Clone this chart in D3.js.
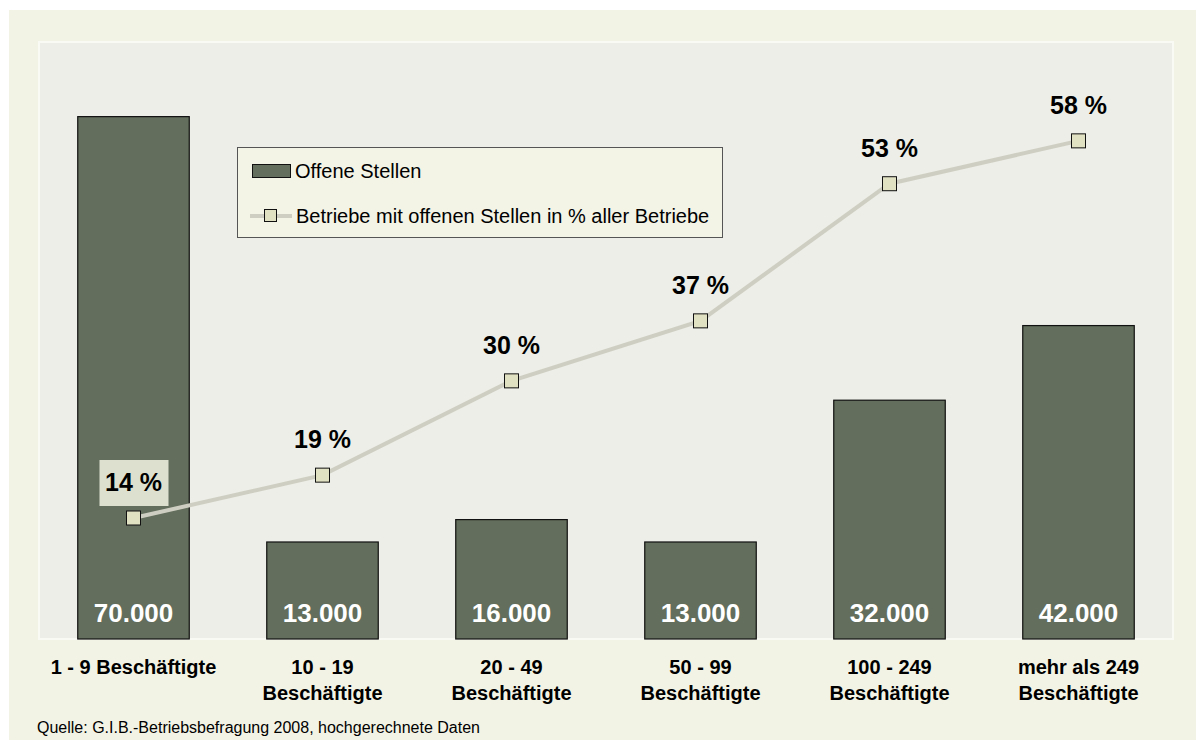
<!DOCTYPE html>
<html>
<head>
<meta charset="utf-8">
<script src="https://cdn.jsdelivr.net/npm/d3@7"></script>
<style>
  html, body { margin: 0; padding: 0; background: #ffffff; }
  svg { display: block; font-family: "Liberation Sans", Arial, sans-serif; }
</style>
</head>
<body>
<svg id="chart" width="1196" height="740"></svg>
<script>
// Offene Stellen nach Betriebsgröße
const categories = [
  ["1 - 9 Beschäftigte"],
  ["10 - 19", "Beschäftigte"],
  ["20 - 49", "Beschäftigte"],
  ["50 - 99", "Beschäftigte"],
  ["100 - 249", "Beschäftigte"],
  ["mehr als 249", "Beschäftigte"]
];
const openPositions = [70000, 13000, 16000, 13000, 32000, 42000];
const sharePercent = [14, 19, 30, 37, 53, 58];
const legendLabels = ["Offene Stellen", "Betriebe mit offenen Stellen in % aller Betriebe"];
const sourceText = "Quelle: G.I.B.-Betriebsbefragung 2008, hochgerechnete Daten";

const svg = d3.select("#chart");
const plot = { left: 39, right: 1173, top: 42, bottom: 639 };

// chart background
svg.append("rect").attr("x", 9).attr("y", 10).attr("width", 1187).attr("height", 730)
  .attr("fill", "#f3f3e5");
svg.append("rect").attr("x", plot.left).attr("y", plot.top)
  .attr("width", plot.right - plot.left).attr("height", plot.bottom - plot.top)
  .attr("fill", "#eceee7").attr("stroke", "#fafaf4").attr("stroke-width", 2);

const x = d3.scaleBand().domain(d3.range(categories.length))
  .range([plot.left, plot.right]).paddingInner(0.41).paddingOuter(0.205);
const yBar = d3.scaleLinear().domain([0, 80000]).range([plot.bottom, 42]);
const yPct = d3.scaleLinear().domain([0, 70]).range([plot.bottom - 1, 38]);
const fmt = v => d3.format(",")(v).replace(/,/g, ".");

// bars
svg.append("g").selectAll("rect").data(openPositions).join("rect")
  .attr("x", (d, i) => x(i)).attr("y", d => yBar(d))
  .attr("width", x.bandwidth()).attr("height", d => yBar(0) - yBar(d))
  .attr("fill", "#636e5c").attr("stroke", "#111").attr("stroke-width", 1.2);

// bar values
svg.append("g").selectAll("text").data(openPositions).join("text")
  .attr("x", (d, i) => x(i) + x.bandwidth() / 2).attr("y", 622)
  .attr("text-anchor", "middle").attr("fill", "#ffffff")
  .attr("font-weight", "bold").attr("font-size", 26)
  .text(d => fmt(d));

// percentage line
const cx = i => x(i) + x.bandwidth() / 2;
const line = d3.line().x((d, i) => cx(i)).y(d => yPct(d));
svg.append("path").datum(sharePercent).attr("d", line)
  .attr("fill", "none").attr("stroke", "#cfcec2").attr("stroke-width", 4);

// label background for the first point
svg.append("rect").attr("x", cx(0) - 34).attr("y", yPct(sharePercent[0]) - 58)
  .attr("width", 69).attr("height", 46).attr("fill", "#dde0cf");

svg.append("g").selectAll("rect").data(sharePercent).join("rect")
  .attr("x", (d, i) => cx(i) - 7).attr("y", d => yPct(d) - 7)
  .attr("width", 14).attr("height", 14)
  .attr("fill", "#e0e0c2").attr("stroke", "#111").attr("stroke-width", 1);

svg.append("g").selectAll("text").data(sharePercent).join("text")
  .attr("x", (d, i) => cx(i)).attr("y", d => yPct(d) - 27)
  .attr("text-anchor", "middle").attr("fill", "#000")
  .attr("font-weight", "bold").attr("font-size", 25)
  .text(d => d + " %");

// category labels
const catG = svg.append("g");
categories.forEach((lines, i) => {
  const t = catG.append("text").attr("x", cx(i)).attr("y", 674)
    .attr("text-anchor", "middle").attr("font-weight", "bold").attr("font-size", 20)
    .attr("fill", "#000");
  lines.forEach((l, j) => t.append("tspan").attr("x", cx(i)).attr("dy", j === 0 ? 0 : 26).text(l));
});

// legend
const lg = svg.append("g");
lg.append("rect").attr("x", 237.5).attr("y", 147.5).attr("width", 485).attr("height", 90)
  .attr("fill", "#f3f3e6").attr("stroke", "#555").attr("stroke-width", 1);
lg.append("rect").attr("x", 252.5).attr("y", 164.5).attr("width", 38).attr("height", 13)
  .attr("fill", "#636e5c").attr("stroke", "#111").attr("stroke-width", 1);
lg.append("text").attr("x", 295).attr("y", 178).attr("font-size", 20).attr("fill", "#000")
  .text(legendLabels[0]);
lg.append("line").attr("x1", 250).attr("x2", 292).attr("y1", 216).attr("y2", 216)
  .attr("stroke", "#cfcec2").attr("stroke-width", 4);
lg.append("rect").attr("x", 264.5).attr("y", 209.5).attr("width", 12).attr("height", 12)
  .attr("fill", "#e0e0c2").attr("stroke", "#111").attr("stroke-width", 1);
lg.append("text").attr("x", 296).attr("y", 223).attr("font-size", 20).attr("fill", "#000")
  .text(legendLabels[1]);

// source
svg.append("text").attr("x", 37).attr("y", 733).attr("font-size", 16).attr("fill", "#000")
  .text(sourceText);
</script>
</body>
</html>
